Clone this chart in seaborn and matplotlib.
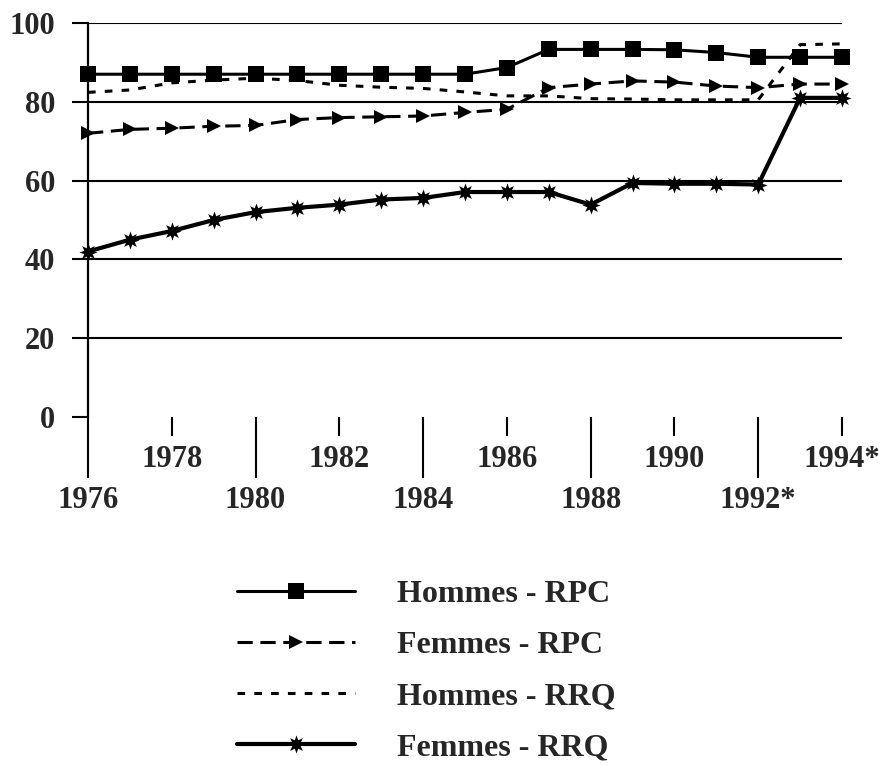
import matplotlib
matplotlib.use("Agg")
import matplotlib.pyplot as plt
import seaborn as sns
import numpy as np

# données (taux de participation, %)
annees = list(range(1976, 1995))
hommes_rpc = [87, 87, 87, 87, 87, 87, 87, 87, 87, 87, 88.7, 93.3, 93.3, 93.3, 93.2, 92.5, 91.3, 91.3, 91.3]
femmes_rpc = [72, 73, 73.3, 73.8, 74, 75.5, 76, 76.2, 76.4, 77.3, 78.1, 83.6, 84.5, 85.3, 85, 84, 83.6, 84.5, 84.5]
hommes_rrq = [82.4, 83, 84.8, 85.5, 86, 85.4, 84.2, 83.7, 83.4, 82.5, 81.5, 81.5, 80.8, 80.7, 80.5, 80.5, 80.5, 94.5, 94.7]
femmes_rrq = [42, 45, 47.2, 50, 52, 53.1, 53.9, 55.2, 55.6, 57.1, 57.1, 57.1, 53.9, 59.4, 59.2, 59.2, 59, 81, 81]

ticks_longs = [1976, 1980, 1984, 1988, 1992]
ticks_courts = [1978, 1982, 1986, 1990, 1994]
labels_longs = ["1976", "1980", "1984", "1988", "1992*"]
labels_courts = ["1978", "1982", "1986", "1990", "1994*"]

sns.set_style("white")
plt.rcParams['font.family'] = ['Liberation Serif', 'DejaVu Serif']
plt.rcParams['font.weight'] = 'bold'

fig = plt.figure(figsize=(8.86, 7.65), dpi=100)
ax = fig.add_axes([88/886, 1 - 417/765, (842 - 88)/886, (417 - 23)/765])

sns.lineplot(x=annees, y=hommes_rpc, color='black', lw=2.2, marker='s', markersize=11,
             mec='black', mew=0, label='Hommes - RPC', clip_on=False, ax=ax)
sns.lineplot(x=annees, y=femmes_rpc, color='black', lw=2.2, linestyle=(0, (5, 2.5)), marker='>',
             markersize=10, mec='black', mew=0, label='Femmes - RPC', clip_on=False, ax=ax)
sns.lineplot(x=annees, y=hommes_rrq, color='black', lw=2.2, linestyle=(0, (2.5, 3)),
             label='Hommes - RRQ', clip_on=False, ax=ax)
sns.lineplot(x=annees, y=femmes_rrq, color='black', lw=3, marker=(8, 1, 0), markersize=13,
             mec='black', mew=0, label='Femmes - RRQ', clip_on=False, ax=ax)

if ax.get_legend():
    ax.get_legend().remove()

ax.set_xlim(1976, 1994)
ax.set_ylim(0, 100)
ax.set_yticks([0, 20, 40, 60, 80, 100])
ax.set_xlabel('')
ax.set_ylabel('')

for s in ['top', 'right', 'bottom']:
    ax.spines[s].set_visible(False)
ax.spines['left'].set_linewidth(1.6)
ax.spines['left'].set_color('black')

# grille horizontale sauf au zéro
ax.yaxis.grid(True, color='black', lw=1.5)
ax.yaxis.get_gridlines()[0].set_visible(False)
ax.set_axisbelow(True)

ax.tick_params(axis='y', direction='out', length=11.5, width=1.5, color='black',
               pad=12, labelsize=22, left=True)

# années : ticks longs et courts en alternance
ax.set_xticks(ticks_longs)
ax.set_xticklabels(labels_longs)
ax.set_xticks(ticks_courts, minor=True)
ax.set_xticklabels(labels_courts, minor=True)
ax.tick_params(axis='x', which='major', direction='out', length=44, width=1.5, color='black',
               pad=6, labelsize=22, bottom=True)
ax.tick_params(axis='x', which='minor', direction='out', length=14, width=1.5, color='black',
               pad=6, labelsize=22, bottom=True)

for t in ax.get_xticklabels(which='both') + ax.get_yticklabels():
    t.set_fontweight('bold')

handles, labels = ax.get_legend_handles_labels()
leg = fig.legend(handles, labels, loc='upper left', bbox_to_anchor=(237/886, 1 - 580/765),
                 frameon=False, fontsize=23, handlelength=3.7, handletextpad=1.3,
                 labelspacing=0.68, borderpad=0, borderaxespad=0, numpoints=1)
for t in leg.get_texts():
    t.set_fontweight('bold')

fig.savefig('out.png', dpi=100)
